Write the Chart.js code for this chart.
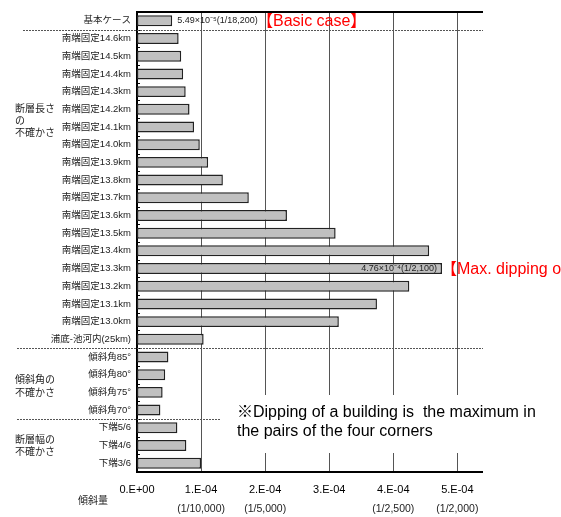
<!DOCTYPE html>
<html>
<head>
<meta charset="utf-8">
<script src="https://cdn.jsdelivr.net/npm/chart.js@4"></script>
<style>
  html, body { margin: 0; padding: 0; background: #fff; }
  #mycanvas { display: block; }
</style>
</head>
<body>
<canvas id="mycanvas" width="561" height="517"></canvas>
<script>
// rows, top to bottom
var cases = ['基本ケース',
  '南端固定14.6km', '南端固定14.5km', '南端固定14.4km', '南端固定14.3km', '南端固定14.2km',
  '南端固定14.1km', '南端固定14.0km', '南端固定13.9km', '南端固定13.8km', '南端固定13.7km',
  '南端固定13.6km', '南端固定13.5km', '南端固定13.4km', '南端固定13.3km', '南端固定13.2km',
  '南端固定13.1km', '南端固定13.0km',
  '浦底-池河内(25km)',
  '傾斜角85°', '傾斜角80°', '傾斜角75°', '傾斜角70°',
  '下端5/6', '下端4/6', '下端3/6'];
// dipping (tilt) per case
var tilt = [5.49e-5,
  6.5e-5, 6.9e-5, 7.2e-5, 7.6e-5, 8.2e-5,
  8.9e-5, 9.8e-5, 1.11e-4, 1.34e-4, 1.745e-4,
  2.34e-4, 3.10e-4, 4.56e-4, 4.76e-4, 4.25e-4,
  3.745e-4, 3.15e-4,
  1.04e-4,
  4.9e-5, 4.4e-5, 4.0e-5, 3.65e-5,
  6.3e-5, 7.7e-5, 1.0e-4];
var xTickLabels = ['0.E+00', '1.E-04', '2.E-04', '3.E-04', '4.E-04', '5.E-04'];
var xTickFractions = ['', '(1/10,000)', '(1/5,000)', '', '(1/2,500)', '(1/2,000)'];
var xMax = 5.4e-4;
// row index after which a dashed separator runs
var groupBreaks = [0, 18, 22];

var LATIN = "'Liberation Sans', 'Noto Sans CJK JP', sans-serif";
var JP = "'Noto Sans CJK JP', sans-serif";

var extras = {
  id: 'extras',
  afterDraw: function(chart) {
    var c = chart.ctx;
    var area = chart.chartArea;
    var xs = chart.scales.x, ys = chart.scales.y;
    c.save();

    // top frame line
    c.strokeStyle = '#000';
    c.lineWidth = 2;
    c.beginPath();
    c.moveTo(area.left - 1, area.top);
    c.lineTo(area.right, area.top);
    c.stroke();

    // little row ticks on the value axis
    c.lineWidth = 1;
    for (var i = 0; i < cases.length - 1; i++) {
      var yb = Math.round((ys.getPixelForValue(i) + ys.getPixelForValue(i + 1)) / 2) + 0.5;
      c.beginPath();
      c.moveTo(area.left, yb);
      c.lineTo(area.left + 3, yb);
      c.stroke();
    }

    // dashed group separators
    c.strokeStyle = '#555';
    c.setLineDash([2, 1]);
    groupBreaks.forEach(function(k, j) {
      var y = Math.round((ys.getPixelForValue(k) + ys.getPixelForValue(k + 1)) / 2) + 0.5;
      c.beginPath();
      c.moveTo(j === 0 ? 23 : 17, y);
      c.lineTo(area.right, y);
      c.stroke();
    });
    c.setLineDash([]);

    // value notes
    c.fillStyle = '#222';
    c.font = '9px ' + LATIN;
    c.textBaseline = 'middle';
    c.textAlign = 'left';
    c.fillText('5.49×10⁻⁵(1/18,200)', xs.getPixelForValue(tilt[0]) + 5, ys.getPixelForValue(0));
    c.textAlign = 'right';
    c.fillText('4.76×10⁻⁴(1/2,100)', xs.getPixelForValue(tilt[14]) - 5, ys.getPixelForValue(14));

    c.fillStyle = '#ff0000';
    c.font = '16px ' + LATIN;
    c.textAlign = 'left';
    c.fillText('【Basic case】', 257, ys.getPixelForValue(0) + 1);
    c.fillText('【Max. dipping of a building】', xs.getPixelForValue(tilt[14]) - 1, ys.getPixelForValue(14) + 1);

    // group titles
    c.fillStyle = '#222';
    c.font = '10px ' + JP;
    c.fillText('断層長さ', 15, 108);
    c.fillText('の', 15, 120);
    c.fillText('不確かさ', 15, 132);
    c.fillText('傾斜角の', 15, 379);
    c.fillText('不確かさ', 15, 392);
    c.fillText('断層幅の', 15, 439);
    c.fillText('不確かさ', 15, 451);
    c.fillText('傾斜量', 78, 500);

    // fraction labels under the ticks
    c.font = '10.5px ' + LATIN;
    c.textAlign = 'center';
    xs.ticks.forEach(function(t, i) {
      if (xTickFractions[i]) c.fillText(xTickFractions[i], xs.getPixelForValue(t.value), 509);
    });

    // note box
    c.fillStyle = '#fff';
    c.fillRect(220, 395, 341, 58);
    c.fillStyle = '#000';
    c.font = '16px ' + LATIN;
    c.textAlign = 'left';
    c.fillText('※Dipping of a building is  the maximum in', 237, 413);
    c.fillText('the pairs of the four corners', 237, 432);

    c.restore();
  }
};

var ctx = document.getElementById('mycanvas');
var barGraph = new Chart(ctx, {
  type: 'bar',
  data: {
    labels: cases,
    datasets: [{
      label: '傾斜量',
      data: tilt,
      backgroundColor: '#c0c0c0',
      borderColor: '#222',
      borderWidth: 1.5,
      borderSkipped: false,
      categoryPercentage: 1,
      barPercentage: 0.62
    }]
  },
  options: {
    indexAxis: 'y',
    responsive: false,
    animation: false,
    devicePixelRatio: 1,
    layout: { padding: { top: 12, right: 78, left: 0, bottom: 0 } },
    plugins: { legend: { display: false }, tooltip: { enabled: false } },
    scales: {
      x: {
        min: 0,
        max: xMax,
        afterFit: function(s) { s.height = 45; },
        ticks: {
          stepSize: 1e-4,
          includeBounds: false,
          padding: 11,
          color: '#000',
          font: { family: LATIN, size: 11 },
          callback: function(v, i) { return xTickLabels[i]; }
        },
        grid: {
          drawTicks: false,
          color: '#555',
          lineWidth: function(c) { return c.index === 0 ? 0 : 1; }
        },
        border: { display: true, color: '#000', width: 2 }
      },
      y: {
        afterFit: function(s) { s.width = 137; },
        ticks: {
          autoSkip: false,
          padding: 6,
          color: '#222',
          font: { family: LATIN, size: 9.5 }
        },
        grid: { display: false, drawTicks: false, tickLength: 0 },
        border: { display: true, color: '#000', width: 2 }
      }
    }
  },
  plugins: [extras]
});
</script>
</body>
</html>
